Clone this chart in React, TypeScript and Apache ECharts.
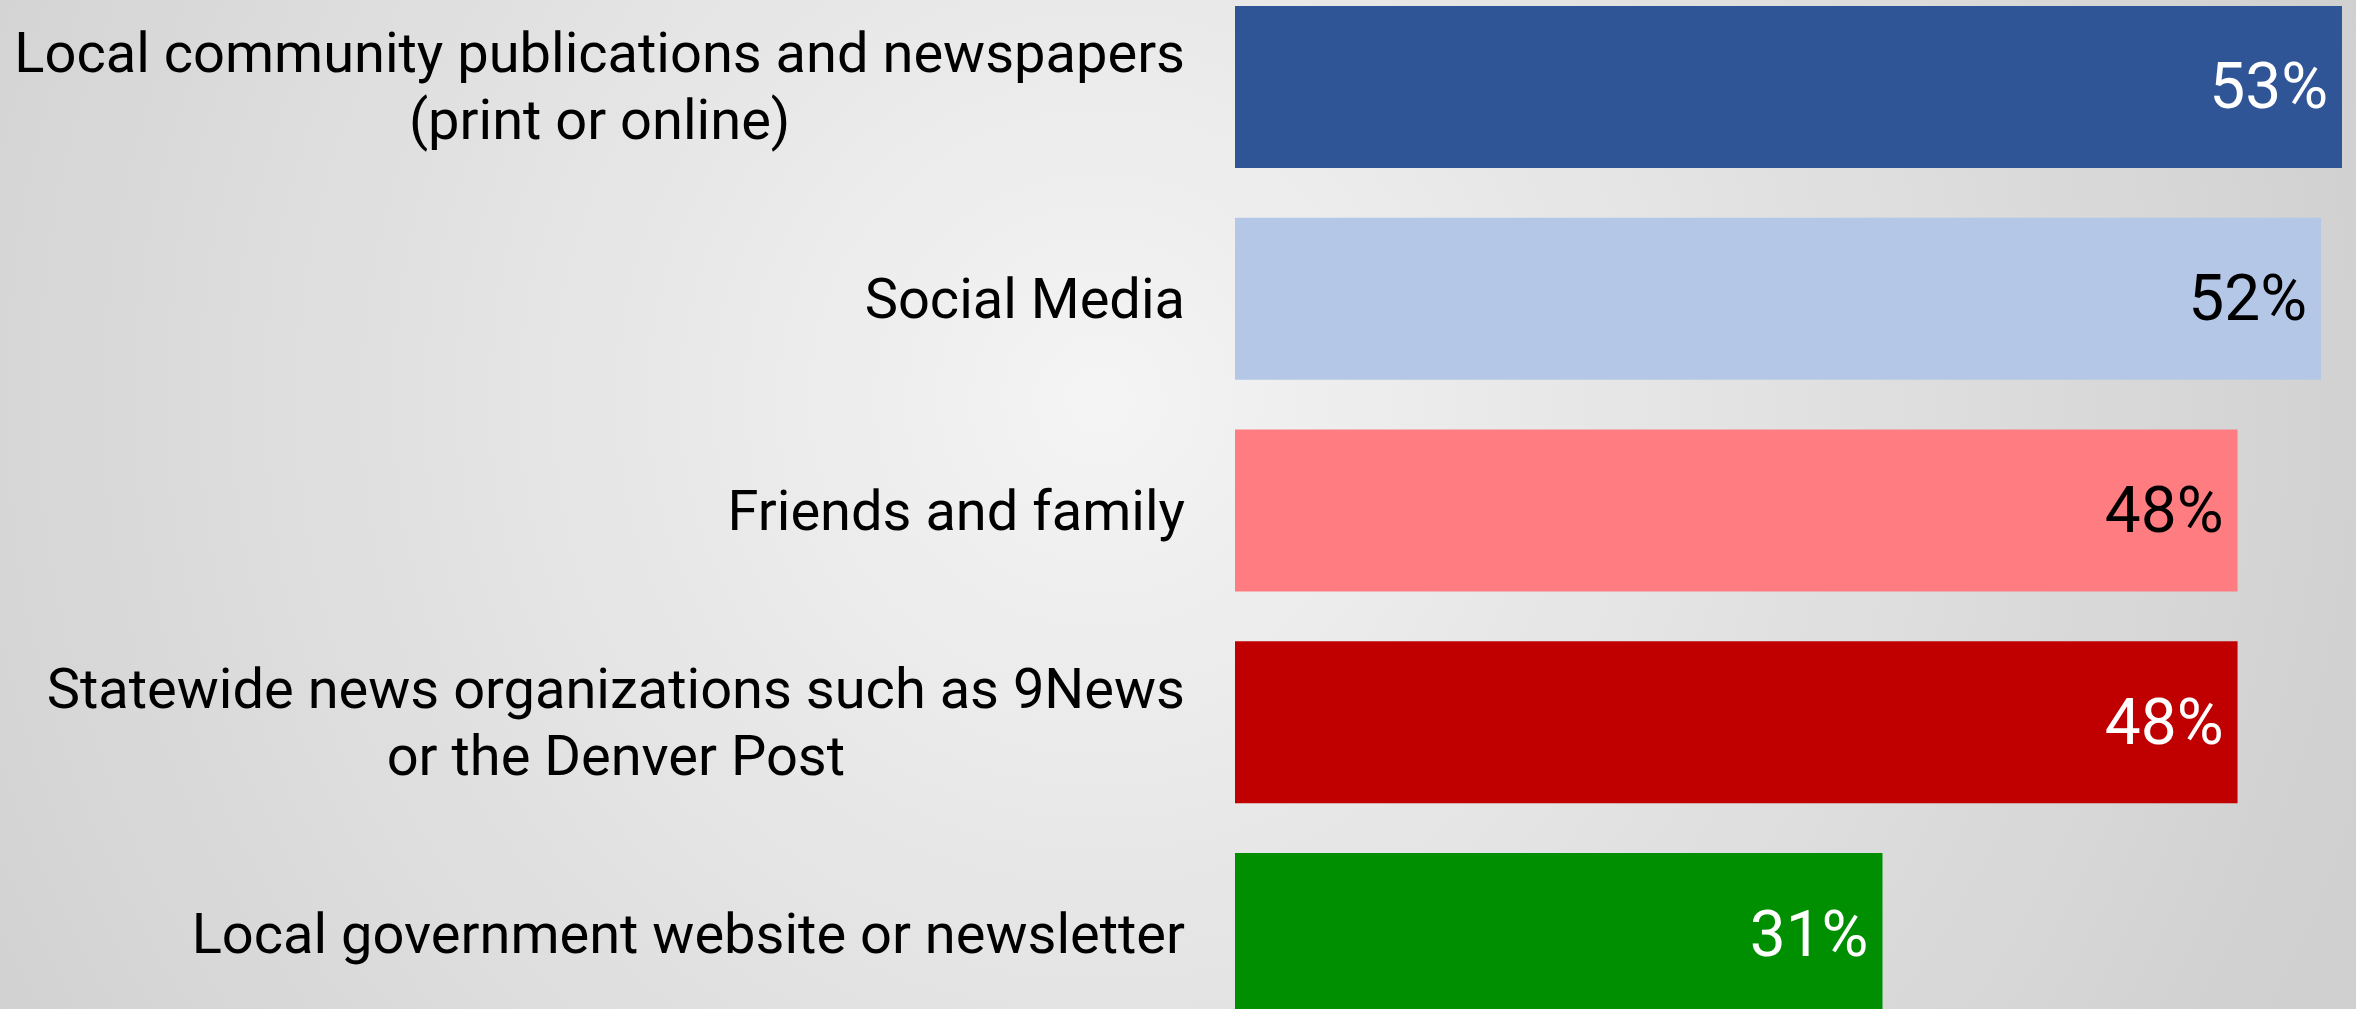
import React, { useEffect, useRef } from "react";
import * as echarts from "echarts";

const categories = [
  "Local community publications and newspapers\n(print or online)",
  "Social Media",
  "Friends and family",
  "Statewide news organizations such as 9News\nor the Denver Post",
  "Local government website or newsletter",
];
const values = [53, 52, 48, 48, 31];
const barColors = ["#2F5597", "#B4C7E7", "#FF7C80", "#C00000", "#008F00"];
const labelColors = ["#FFFFFF", "#000000", "#000000", "#FFFFFF", "#FFFFFF"];

export default function App() {
  const ref = useRef<HTMLDivElement>(null);
  useEffect(() => {
    if (!ref.current) return;
    const chart = echarts.init(ref.current, undefined, { renderer: "svg" });
    chart.setOption({
      animation: false,
      backgroundColor: "transparent",
      grid: {
        left: 1235,
        top: 0,
        width: 1107,
        height: 1059,
        containLabel: false,
        outerBoundsMode: "none",
      },
      xAxis: {
        type: "value",
        min: 0,
        max: 53,
        show: false,
        splitLine: { show: false },
      },
      yAxis: {
        type: "category",
        inverse: true,
        data: categories,
        axisLine: { show: false },
        axisTick: { show: false },
        axisLabel: {
          margin: 50,
          align: "right",
          formatter: (v: string) =>
            v
              .split("\n")
              .map((l) => `{c|${l}}`)
              .join("\n"),
          rich: {
            c: {
              align: "center",
              fontFamily: "Roboto",
              fontSize: 56,
              lineHeight: 67,
              color: "#000000",
            },
          },
        },
      },
      series: [
        {
          type: "bar",
          barWidth: 162,
          data: values.map((v, i) => ({
            value: v,
            itemStyle: { color: barColors[i] },
            label: { color: labelColors[i] },
          })),
          label: {
            show: true,
            position: "insideRight",
            distance: 14,
            fontFamily: "Roboto",
            fontSize: 64,
            formatter: (p: any) => `${p.value}%`,
          },
        },
      ],
    });
    return () => chart.dispose();
  }, []);
  return (
    <div
      style={{
        position: "fixed",
        left: 0,
        top: 0,
        width: 2356,
        height: 1009,
        overflow: "hidden",
        background:
          "radial-gradient(circle 1320px at 1100px 400px, #f4f4f4 0%, #d0d0d0 100%)",
      }}
    >
      <div
        ref={ref}
        style={{ position: "absolute", left: 0, top: -19, width: 2356, height: 1059 }}
      />
    </div>
  );
}
